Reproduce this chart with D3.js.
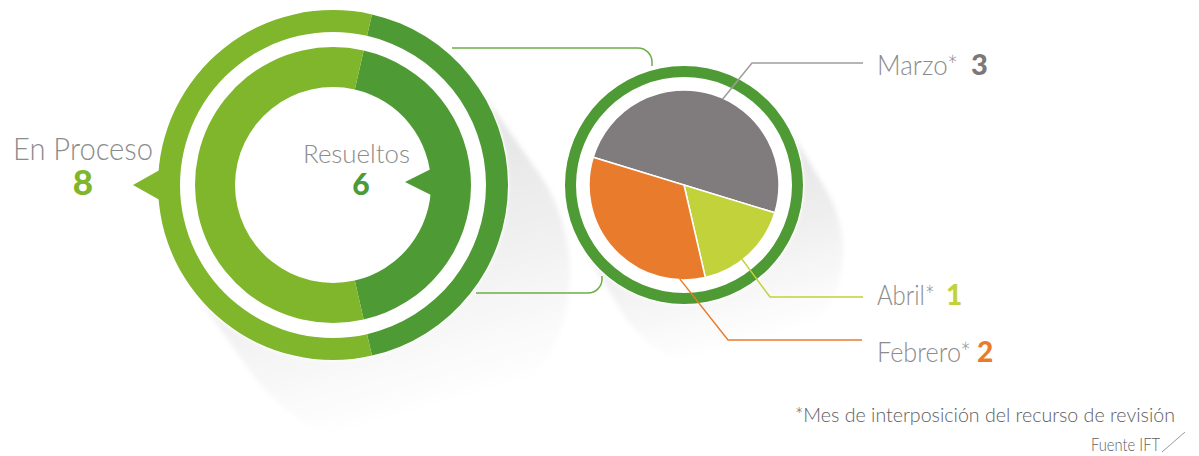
<!DOCTYPE html>
<html><head><meta charset="utf-8">
<script src="https://cdn.jsdelivr.net/npm/d3@7"></script>
<style>
html,body{margin:0;padding:0;background:#fff;}
svg{display:block;}
text{font-family:Lato,"Open Sans",sans-serif;}
</style></head>
<body>
<svg id="chart" width="1199" height="456"></svg>
<script>
// ---- data ----
const statusLabels = ["Resueltos", "En Proceso"];
const statusValues = [6, 8];
const monthLabels = ["Marzo*", "Abril*", "Febrero*"];
const monthValues = [3, 1, 2];
const footnote = "*Mes de interposición del recurso de revisión";
const source = "Fuente IFT";

const svg = d3.select("#chart");
const defs = svg.append("defs");

const cDark = "#4e9a34", cLight = "#80b62b";
const statusColors = [cDark, cLight];
const monthColors = ["#807b7c", "#c2d23a", "#e97c2c"];
const textGray = "#8c8c8c";

// geometry
const big = {x: 333, y: 185};
const pieC = {x: 684, y: 185};

// shadow gradient + blur
const g1 = defs.append("linearGradient").attr("id", "shg").attr("x1", 0).attr("y1", 0).attr("x2", 0.3).attr("y2", 1);
g1.append("stop").attr("offset", "0%").attr("stop-color", "#d9d9d9");
g1.append("stop").attr("offset", "60%").attr("stop-color", "#efefef");
g1.append("stop").attr("offset", "100%").attr("stop-color", "#ffffff");
defs.append("filter").attr("id", "blur").attr("x", "-20%").attr("y", "-20%").attr("width", "140%").attr("height", "140%")
  .append("feGaussianBlur").attr("stdDeviation", 2.5);

function shadow(c, R, dx, dy) {
  const len = Math.hypot(dx, dy), ux = dx / len, uy = dy / len;
  const nx = -uy, ny = ux;
  const p1 = [c.x + nx * R, c.y + ny * R], p2 = [c.x - nx * R, c.y - ny * R];
  const q1 = [p1[0] + dx, p1[1] + dy], q2 = [p2[0] + dx, p2[1] + dy];
  const g = svg.append("g").attr("filter", "url(#blur)").attr("fill", "url(#shg)");
  g.append("path").attr("d", `M${p1}L${q1}A${R},${R} 0 0 0 ${q2}L${p2}A${R},${R} 0 0 1 ${p1}Z`);
}
shadow(big, 175, 62, 88);
shadow(pieC, 119, 40, 66);

svg.append("circle").attr("cx", big.x).attr("cy", big.y).attr("r", 176).attr("fill", "#fff");
svg.append("circle").attr("cx", pieC.x).attr("cy", pieC.y).attr("r", 120).attr("fill", "#fff");

// ---- big donut ----
const total = d3.sum(statusValues);
const start = Math.PI / 2 - Math.PI * statusValues[0] / total;
const pieGen = d3.pie().sort(null).startAngle(start).endAngle(start + 2 * Math.PI);
const arcsData = pieGen(statusValues);
const bigG = svg.append("g").attr("transform", `translate(${big.x},${big.y})`);
const outerArc = d3.arc().innerRadius(153).outerRadius(175);
const innerArc = d3.arc().innerRadius(98).outerRadius(138);
bigG.selectAll(".o").data(arcsData).join("path").attr("d", outerArc).attr("fill", (d, i) => statusColors[i]);
bigG.selectAll(".i").data(arcsData).join("path").attr("d", innerArc).attr("fill", (d, i) => statusColors[i]);
bigG.append("path").attr("d", "M-200,0 L-168,-18 L-168,18 Z").attr("fill", cLight);
bigG.append("path").attr("d", "M72,-3 L104,-19 L104,13 Z").attr("fill", cDark);

// ---- pie ----
const pG = svg.append("g").attr("transform", `translate(${pieC.x},${pieC.y})`);
pG.append("path").attr("d", d3.arc().innerRadius(108).outerRadius(119).startAngle(0).endAngle(2 * Math.PI)()).attr("fill", cDark);
const mStart = -73 * Math.PI / 180;
const mPie = d3.pie().sort(null).startAngle(mStart).endAngle(mStart + 2 * Math.PI)(monthValues);
const mArc = d3.arc().innerRadius(0).outerRadius(95);
pG.selectAll(".s").data(mPie).join("path").attr("d", mArc).attr("fill", (d, i) => monthColors[i])
  .attr("stroke", "#fff").attr("stroke-width", 1.5);

// connectors
svg.append("path").attr("d", "M452,48 H638 A14,14 0 0 1 652,62 V66").attr("fill", "none").attr("stroke", "#6cae47").attr("stroke-width", 1.5);
svg.append("path").attr("d", "M476,293 H588 A14,14 0 0 0 602,279 V276").attr("fill", "none").attr("stroke", "#6cae47").attr("stroke-width", 1.5);

// leader lines
const leaderFrac = [0.54, 0.58, 0.13];
const elbow = [[752, 63], [770, 297], [728, 340]];
const lineEnd = [863, 863, 862];
mPie.forEach((d, i) => {
  const a = d.startAngle + (d.endAngle - d.startAngle) * leaderFrac[i];
  const r = i === 1 ? 85 : 94;
  const sx = pieC.x + r * Math.sin(a), sy = pieC.y - r * Math.cos(a);
  svg.append("path").attr("d", `M${sx},${sy}L${elbow[i][0]},${elbow[i][1]}H${lineEnd[i]}`)
    .attr("fill", "none").attr("stroke", i === 0 ? "#a09c9c" : monthColors[i]).attr("stroke-width", 1.5);
});

// ---- texts ----
function txt(x, y, s, size, color, opts = {}) {
  const t = svg.append("text").attr("x", x).attr("y", y).text(s)
    .attr("font-size", size).attr("fill", color).attr("font-weight", opts.w || 300);
  if (opts.anchor) t.attr("text-anchor", opts.anchor);
  if (opts.len) t.attr("textLength", opts.len).attr("lengthAdjust", "spacingAndGlyphs");
  return t;
}
txt(13, 160, statusLabels[1], 31, textGray, {len: 140});
txt(83, 195, statusValues[1], 35, cLight, {w: 900, anchor: "middle"});
txt(303, 163, statusLabels[0], 25, textGray, {len: 107});
txt(361, 195, statusValues[0], 30, cDark, {w: 900, anchor: "middle"});

const labelY = [75, 305, 362];
const labelLen = [81, 58, 94];
const numX = [971, 946, 977];
const numSize = [29, 28, 28];
const numColors = ["#7d7878", "#c2d23a", "#e97c2c"];
monthLabels.forEach((m, i) => {
  txt(877, labelY[i], m, 28, textGray, {len: labelLen[i]});
  txt(numX[i], labelY[i], monthValues[i], numSize[i], numColors[i], {w: 900});
});

txt(795, 422, footnote, 19.5, "#5e5e5e", {len: 380});
txt(1091, 451, source, 18, "#5e5e5e", {len: 69});
svg.append("line").attr("x1", 1162).attr("y1", 452).attr("x2", 1185).attr("y2", 432).attr("stroke", "#9a9a9a").attr("stroke-width", 1);
</script>
</body></html>
